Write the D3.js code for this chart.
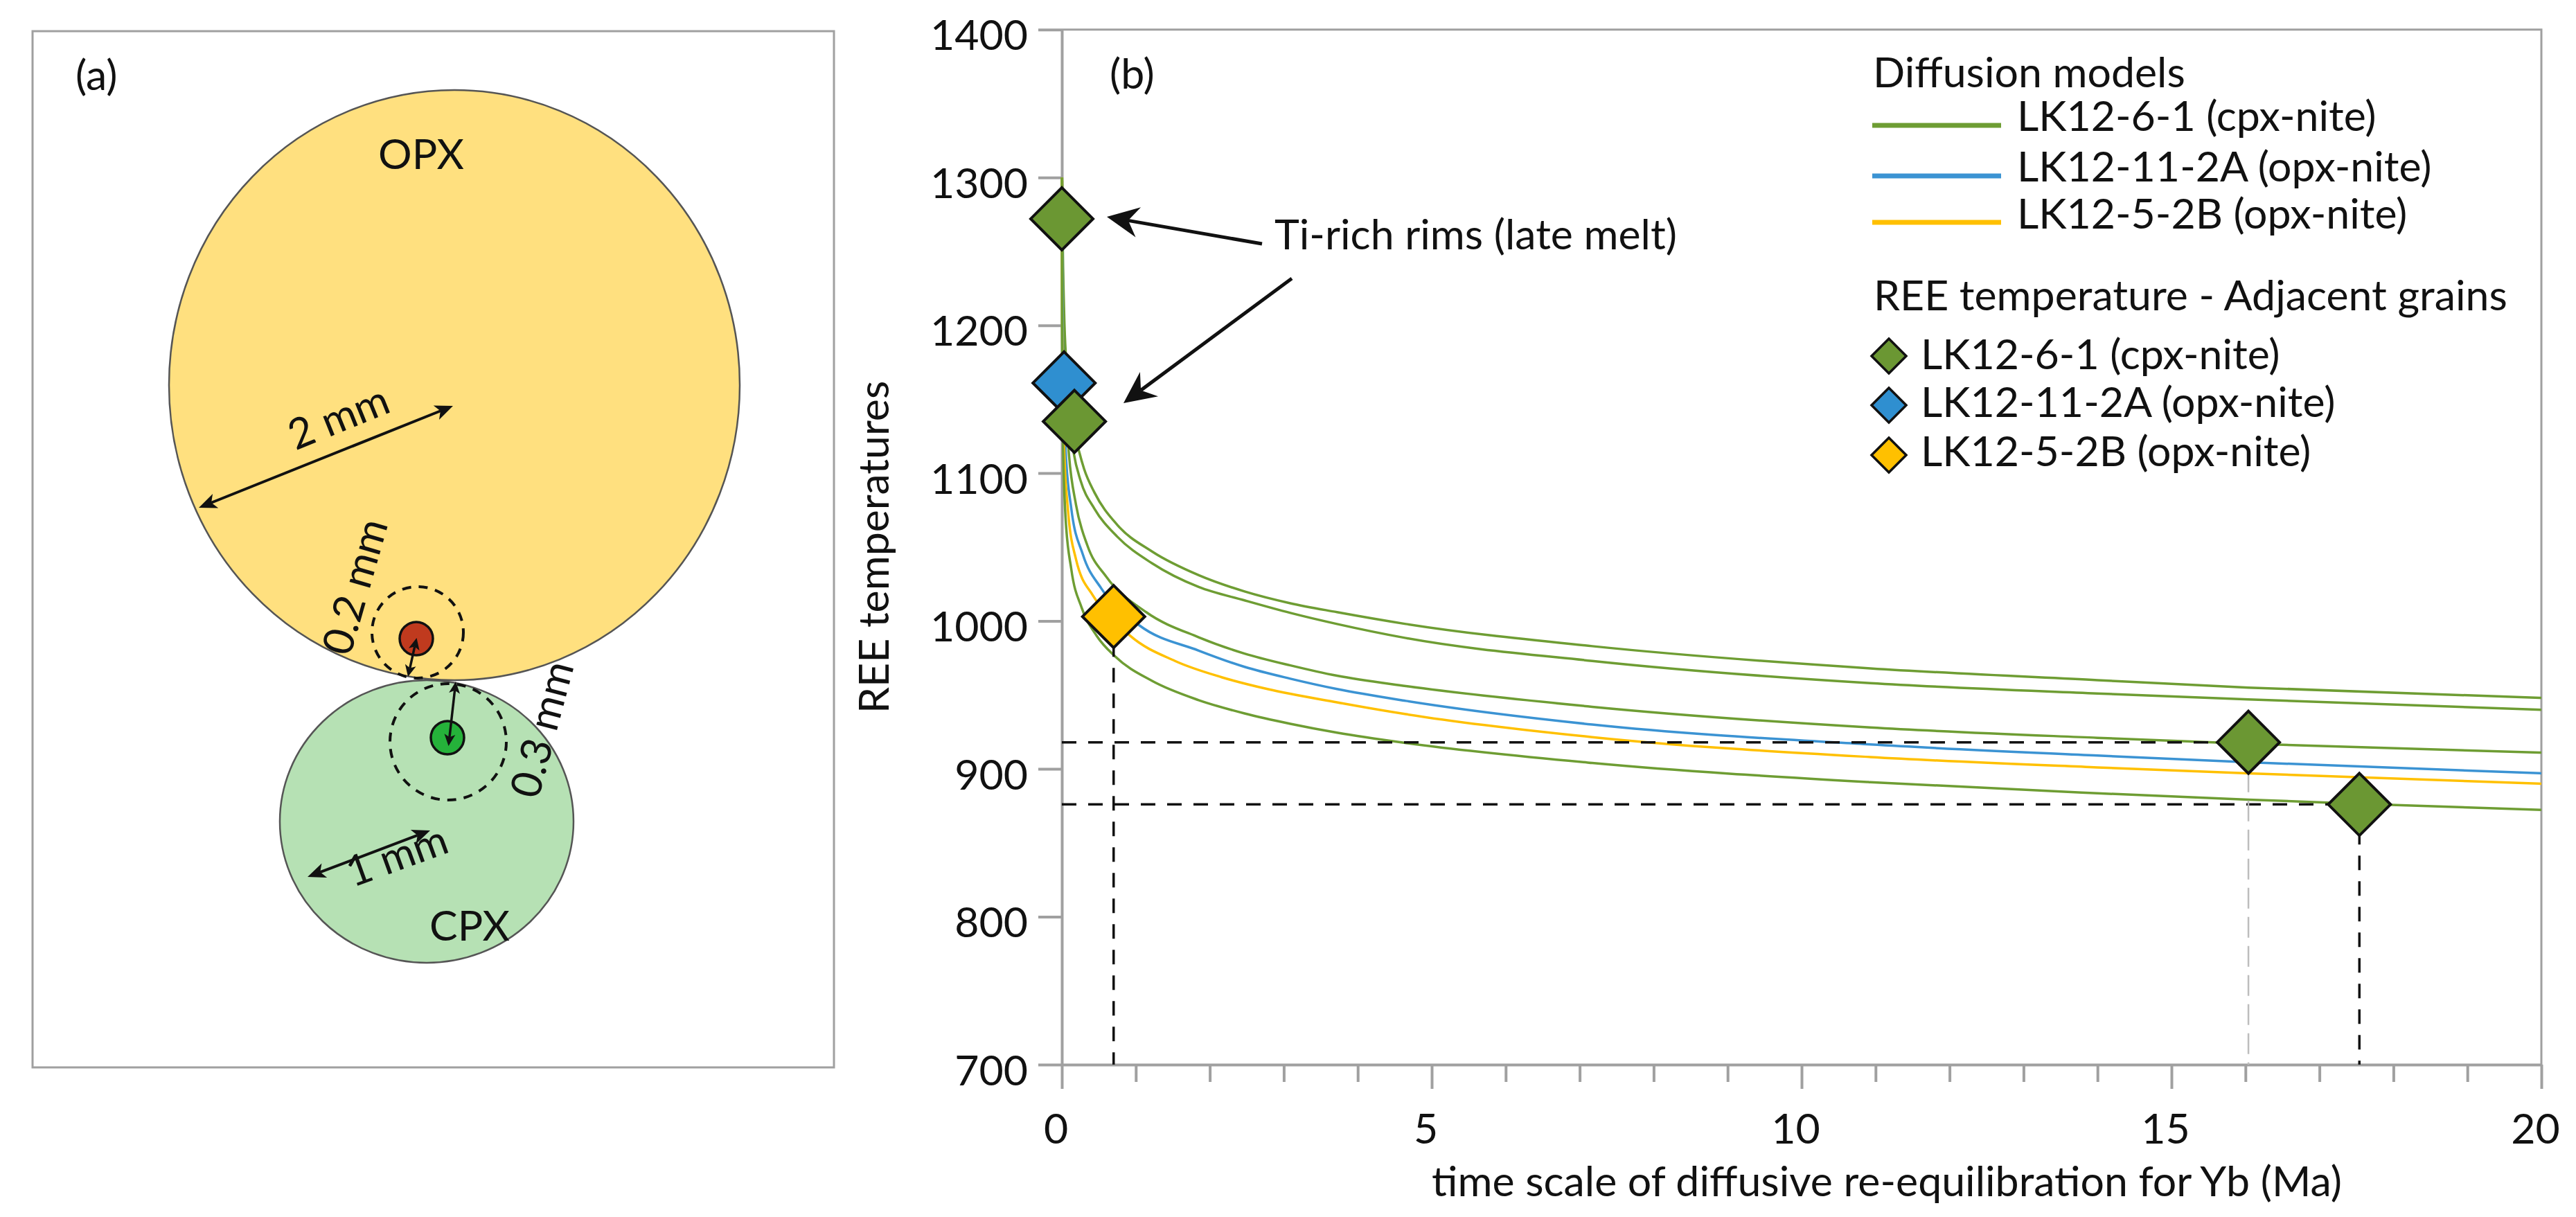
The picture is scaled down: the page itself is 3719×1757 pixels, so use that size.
<!DOCTYPE html>
<html>
<head>
<meta charset="utf-8">
<script src="https://cdn.jsdelivr.net/npm/d3@7"></script>
<style>
html,body{margin:0;padding:0;background:#fff;}
svg{display:block;}
</style>
</head>
<body>
<svg id="chart" width="3719" height="1757"></svg>
<script>
// ---------------- DATA ----------------
const xMajorTicks = [0, 5, 10, 15, 20];
const xMinorTicks = [1,2,3,4,6,7,8,9,11,12,13,14,16,17,18,19];
const yTicks = [700, 800, 900, 1000, 1100, 1200, 1300, 1400];

const sampleNames = ["LK12-6-1 (cpx-nite)", "LK12-11-2A (opx-nite)", "LK12-5-2B (opx-nite)"];

// Diffusion model curves: [time (Ma), temperature]
const modelCpxA = [[0.004,1300],[0.01,1265],[0.03,1210],[0.07,1168],[0.15,1133],[0.237,1114],[0.30,1103],[0.44,1087],[0.75,1065],[1.22,1047],[1.85,1031],[2.47,1020],[3.09,1012],[3.72,1006],[4.65,998],[7.17,983],[10.93,968],[14,960],[16.04,955],[20,948]];
const modelCpxB = [[0.004,1298],[0.01,1248],[0.03,1191],[0.07,1151],[0.159,1114],[0.253,1095],[0.44,1076],[0.75,1057],[1.22,1039],[1.85,1023],[2.47,1014],[3.09,1005.5],[3.72,998],[4.65,988.5],[7.17,973],[10.93,958],[14,951],[16.04,947],[20,940]];
const modelCpxC = [[0.0025,1300],[0.01,1228],[0.03,1166],[0.097,1112],[0.19,1079],[0.346,1051],[0.60,1030],[1.14,1006],[1.85,989],[2.47,978],[3.09,970],[3.72,963],[4.65,956],[7.17,942],[10.93,928],[14,921],[16.04,917],[20,911]];
const modelOpx11 = [[0.002,1300],[0.005,1245],[0.012,1195],[0.025,1155],[0.05,1116],[0.128,1076],[0.284,1045],[0.534,1022],[1.05,997],[1.85,980],[2.47,969],[3.09,961],[3.72,954],[4.65,946],[7.17,930],[10.93,916.5],[14,909],[16.04,904.5],[20,897]];
const modelOpx5 = [[0.0008,1300],[0.002,1250],[0.005,1202],[0.012,1159],[0.03,1118],[0.081,1076],[0.19,1042],[0.424,1017],[0.70,1001],[0.924,990],[1.53,973],[2.16,962],[2.78,954],[3.72,945],[4.65,937],[7.17,921.5],[10.93,908],[14,901],[16.04,897],[20,890]];
const modelCpxD = [[0.0004,1300],[0.001,1252],[0.003,1192],[0.01,1135],[0.05,1070],[0.128,1035],[0.268,1009],[0.471,990],[0.721,976],[1.22,959.5],[1.85,946.5],[2.47,937.5],[3.09,930.5],[3.72,924.5],[4.65,917.5],[7.17,904],[10.93,891],[14,883.5],[16.04,879.2],[17.54,876.4],[20,872.3]];

const modelCurves = [modelCpxA, modelCpxB, modelCpxC, modelOpx11, modelOpx5, modelCpxD];
const modelSample = [0, 0, 0, 1, 2, 0];

// REE temperatures of adjacent grains
const pointTime = [0, 0.03, 0.17, 0.70, 16.04, 17.54];
const pointTemp = [1272, 1161, 1135, 1003, 918, 876];
const pointSample = [0, 1, 0, 2, 0, 0];

// dashed guide lines
const guideHTemp = [918, 876];
const guideHEnd = [16.04, 17.54];
const guideVTime = [0.70, 16.04, 17.54];
const guideVTemp = [1003, 918, 876];
const guideVGrey = [false, true, false];

// ---------------- STYLE / LAYOUT ----------------
const lineColors = ["#6e9d33", "#3b93d3", "#ffc000"];
const markColors = ["#6b9733", "#2f8fd0", "#ffc000"];
const axisColor = "#a0a0a0";
const FONT = "Lato, 'Open Sans', 'DejaVu Sans', sans-serif";

const W = 3719, H = 1757;
const svg = d3.select("#chart");
svg.append("rect").attr("width", W).attr("height", H).attr("fill", "#fff");

function textWidth(str, size) {
  const t = svg.append("text").attr("font-family", FONT).attr("font-size", size)
    .attr("x", -5000).attr("y", -5000).text(str);
  const w = t.node().getComputedTextLength();
  t.remove();
  return w;
}
const fitTargets = [["REE temperature - Adjacent grains", 926], ["LK12-6-1 (cpx-nite)", 503],
                    ["Ti-rich rims (late melt)", 593], ["Diffusion models", 450]];
const FS = 100 * d3.mean(fitTargets, d => d[1] / textWidth(d[0], 100));

function txt(g, s, x, y, anchor) {
  return g.append("text").attr("x", x).attr("y", y).attr("text-anchor", anchor || "start")
    .attr("font-family", FONT).attr("font-size", FS).attr("fill", "#111").text(s);
}

function head(g, tx, ty, fx, fy, len, hw, notch, color) {
  const a = Math.atan2(ty - fy, tx - fx);
  const ux = Math.cos(a), uy = Math.sin(a), px = -uy, py = ux;
  const bx = tx - ux * len, by = ty - uy * len;
  const nx = tx - ux * len * notch, ny = ty - uy * len * notch;
  g.append("path")
    .attr("d", `M${tx},${ty}L${bx + px * hw},${by + py * hw}L${nx},${ny}L${bx - px * hw},${by - py * hw}Z`)
    .attr("fill", color);
  return [nx, ny];
}
function arrow(g, x1, y1, x2, y2, o) {
  let s = [x1, y1], e = [x2, y2];
  e = head(g, x2, y2, x1, y1, o.len, o.hw, o.notch, o.color);
  if (o.double) s = head(g, x1, y1, x2, y2, o.len, o.hw, o.notch, o.color);
  g.append("line").attr("x1", s[0]).attr("y1", s[1]).attr("x2", e[0]).attr("y2", e[1])
    .attr("stroke", o.color).attr("stroke-width", o.width);
}

// ---------------- PANEL (a) ----------------
const gA = svg.append("g");
gA.append("rect").attr("x", 47).attr("y", 45).attr("width", 1157).attr("height", 1496)
  .attr("fill", "#fff").attr("stroke", axisColor).attr("stroke-width", 3);

gA.append("ellipse").attr("cx", 656).attr("cy", 556).attr("rx", 412).attr("ry", 426)
  .attr("fill", "#ffe07f").attr("stroke", "#555").attr("stroke-width", 2.5);
gA.append("ellipse").attr("cx", 616).attr("cy", 1186).attr("rx", 212).attr("ry", 204)
  .attr("fill", "#b6e1b4").attr("stroke", "#555").attr("stroke-width", 2.5);

gA.append("circle").attr("cx", 603).attr("cy", 913).attr("r", 66)
  .attr("fill", "none").attr("stroke", "#111").attr("stroke-width", 4).attr("stroke-dasharray", "13 11");
gA.append("circle").attr("cx", 647).attr("cy", 1071).attr("r", 84)
  .attr("fill", "none").attr("stroke", "#111").attr("stroke-width", 4).attr("stroke-dasharray", "13 11");

gA.append("circle").attr("cx", 601).attr("cy", 922).attr("r", 24)
  .attr("fill", "#c03a1e").attr("stroke", "#111").attr("stroke-width", 3.5);
gA.append("circle").attr("cx", 646).attr("cy", 1065).attr("r", 24)
  .attr("fill", "#25b23a").attr("stroke", "#111").attr("stroke-width", 3.5);

const aBig = {len: 26, hw: 11, notch: 0.75, color: "#111", width: 4, double: true};
const aSmall = {len: 17, hw: 8, notch: 0.75, color: "#111", width: 3.5, double: true};
arrow(gA, 287, 733, 654, 586, aBig);
arrow(gA, 444, 1266, 621, 1199, aBig);
arrow(gA, 589, 977, 601.5, 921, aSmall);
arrow(gA, 658, 984, 647.5, 1077, aSmall);

txt(gA, "(a)", 109, 130);
txt(gA, "OPX", 608, 244, "middle");
txt(gA, "CPX", 678, 1358, "middle");
[["2 mm", 489, 603, -22], ["0.2 mm", 513, 847, -74], ["0.3 mm", 783, 1053, -75], ["1 mm", 573, 1236, -20]]
  .forEach(d => {
    gA.append("text").attr("transform", `translate(${d[1]},${d[2]}) rotate(${d[3]})`)
      .attr("text-anchor", "middle").attr("dy", "0.34em")
      .attr("font-family", FONT).attr("font-size", FS).attr("fill", "#111").text(d[0]);
  });

// ---------------- PANEL (b) ----------------
const plot = {left: 1533, right: 3669, top: 42.7, bottom: 1537};
const x = d3.scaleLinear().domain([0, 20]).range([plot.left, plot.right]);
const y = d3.scaleLinear().domain([700, 1400]).range([plot.bottom, plot.top]);
const gB = svg.append("g");

// frame top/right
gB.append("path").attr("d", `M${x(0)},${y(1400)}H${x(20)}V${y(700)}`)
  .attr("fill", "none").attr("stroke", axisColor).attr("stroke-width", 3);

// y axis
const gy = gB.append("g").attr("transform", `translate(${plot.left},0)`)
  .call(d3.axisLeft(y).tickValues(yTicks).tickSize(34).tickSizeOuter(0).tickPadding(15).tickFormat(d3.format("d")));
gy.select(".domain").attr("stroke", axisColor).attr("stroke-width", 4);
gy.selectAll(".tick line").attr("stroke", axisColor).attr("stroke-width", 4);
gy.selectAll(".tick text").attr("font-family", FONT).attr("font-size", FS).attr("fill", "#111")
  .attr("dy", null).attr("y", 29);

// x axis (minor + major)
const gxm = gB.append("g").attr("transform", `translate(0,${plot.bottom})`)
  .call(d3.axisBottom(x).tickValues(xMinorTicks).tickSize(25).tickSizeOuter(0).tickFormat(""));
gxm.select(".domain").remove();
gxm.selectAll(".tick line").attr("stroke", axisColor).attr("stroke-width", 4);
const gx = gB.append("g").attr("transform", `translate(0,${plot.bottom})`)
  .call(d3.axisBottom(x).tickValues(xMajorTicks).tickSize(35).tickSizeOuter(0).tickPadding(0).tickFormat(d3.format("d")));
gx.select(".domain").attr("stroke", axisColor).attr("stroke-width", 4);
gx.selectAll(".tick line").attr("stroke", axisColor).attr("stroke-width", 4);
gx.selectAll(".tick text").attr("font-family", FONT).attr("font-size", FS).attr("fill", "#111")
  .attr("dy", null).attr("y", 114).attr("dx", -9);

// axis titles
gB.append("text").attr("transform", `translate(1283,${(plot.top + plot.bottom) / 2}) rotate(-90)`)
  .attr("text-anchor", "middle").attr("font-family", FONT).attr("font-size", FS).attr("fill", "#111")
  .text("REE temperatures");
txt(gB, "time scale of diffusive re-equilibration for Yb (Ma)", 2724, 1727, "middle");

// model curves
const line = d3.line().x(d => x(d[0])).y(d => y(d[1])).curve(d3.curveMonotoneX);
gB.append("g").selectAll("path").data(modelCurves).join("path")
  .attr("d", line).attr("fill", "none")
  .attr("stroke", (d, i) => lineColors[modelSample[i]]).attr("stroke-width", 3.5);

// dashed guides
guideHTemp.forEach((T, i) => {
  gB.append("line").attr("x1", x(0)).attr("x2", x(guideHEnd[i])).attr("y1", y(T)).attr("y2", y(T))
    .attr("stroke", "#111").attr("stroke-width", 3.5).attr("stroke-dasharray", "21 17");
});
guideVTime.forEach((t, i) => {
  gB.append("line").attr("x1", x(t)).attr("x2", x(t)).attr("y1", y(guideVTemp[i])).attr("y2", y(700))
    .attr("stroke", guideVGrey[i] ? "#bdbdbd" : "#111")
    .attr("stroke-width", guideVGrey[i] ? 2.5 : 3.5)
    .attr("stroke-dasharray", guideVGrey[i] ? "30 12" : "21 16");
});

// diamonds
const diamond = h => `M0,${-h}L${h},0L0,${h}L${-h},0Z`;
gB.append("g").selectAll("path").data(pointTime).join("path")
  .attr("transform", (d, i) => `translate(${x(d)},${y(pointTemp[i])})`)
  .attr("d", diamond(45)).attr("fill", (d, i) => markColors[pointSample[i]])
  .attr("stroke", "#111").attr("stroke-width", 4).attr("stroke-linejoin", "miter");

// (b) label and annotation
txt(gB, "(b)", 1602, 128);
txt(gB, "Ti-rich rims (late melt)", 1840, 360);
const aTi = {len: 46, hw: 22, notch: 0.68, color: "#111", width: 5, double: false};
arrow(gB, 1822, 352, 1598, 313, aTi);
arrow(gB, 1865, 402, 1622, 582, aTi);

// legend
const gL = svg.append("g");
txt(gL, "Diffusion models", 2704, 126);
const legLineY = [181, 254, 321];
const legLineTextY = [189, 262, 330];
sampleNames.forEach((n, i) => {
  gL.append("line").attr("x1", 2703).attr("x2", 2889).attr("y1", legLineY[i]).attr("y2", legLineY[i])
    .attr("stroke", lineColors[i]).attr("stroke-width", 7);
  txt(gL, n, 2912, legLineTextY[i]);
});
txt(gL, "REE temperature - Adjacent grains", 2705, 448);
const legMarkY = [514, 585, 657];
const legMarkTextY = [533, 602, 673];
sampleNames.forEach((n, i) => {
  gL.append("path").attr("transform", `translate(2727,${legMarkY[i]})`).attr("d", diamond(25))
    .attr("fill", markColors[i]).attr("stroke", "#111").attr("stroke-width", 3.5);
  txt(gL, n, 2773, legMarkTextY[i]);
});
</script>
</body>
</html>
